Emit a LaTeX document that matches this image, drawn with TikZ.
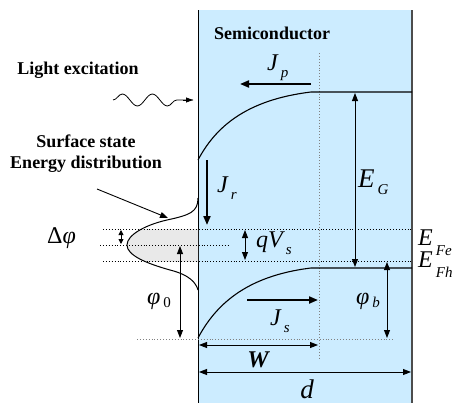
\documentclass[tikz,border=0pt]{standalone}
\usepackage{fontspec}
\setmainfont{Liberation Serif}
\usetikzlibrary{arrows.meta, positioning, calc, decorations.pathmorphing}
\definecolor{semiblue}{RGB}{204,236,255}
% letter with a lowered, detached subscript
\newcommand{\vsub}[3][7pt]{#2\kern3pt\raisebox{-#1}{\fontsize{15}{15}\selectfont #3}}

\tikzset{
  title/.style={font=\bfseries\fontsize{18}{21}\selectfont, align=center, inner sep=0pt},
  sym/.style={font=\itshape\fontsize{24}{24}\selectfont, inner sep=0pt},
  flux/.style={-{Triangle[length=9pt,width=7pt]}, line width=2pt},
  dimline/.style={{Triangle[length=8pt,width=6pt]}-{Triangle[length=8pt,width=6pt]}, line width=0.9pt},
  oneway/.style={-{Triangle[length=8pt,width=6pt]}, line width=0.9pt},
  level/.style={dotted, line width=0.9pt},
  guide/.style={dotted, gray, line width=0.9pt},
  band/.style={line width=1.1pt},
}

\begin{document}
\begin{tikzpicture}[x=1pt, y=-1pt]
  \useasboundingbox (0,0) rectangle (463,415);
  % Semiconductor slab
  \fill[semiblue] (198,10) rectangle (412,403);
  \draw[line width=1pt] (198,10) -- (198,403);
  \draw[gray!60!black, line width=1.5pt] (412,10) -- (412,403);
  \node[title] (semi) at (272,33) {Semiconductor};

  % Surface state distribution (shaded part first)
  \begin{scope}
    \clip (100,229) rectangle (198,261);
    \fill[gray!17] (198,198) .. controls (198,212) and (190,215) .. (167,220)
      .. controls (145,225) and (127,235) .. (127,245)
      .. controls (127,255) and (145,263) .. (170,270)
      .. controls (190,275) and (196,283) .. (198,290) -- cycle;
  \end{scope}
  \draw[line width=1pt] (198,198) .. controls (198,212) and (190,215) .. (167,220)
      .. controls (145,225) and (127,235) .. (127,245)
      .. controls (127,255) and (145,263) .. (170,270)
      .. controls (190,275) and (196,283) .. (198,290);

  % Levels
  \coordinate (feL) at (103,229);  \coordinate (feR) at (412,229);
  \coordinate (fhL) at (103,261);  \coordinate (fhR) at (412,261);
  \coordinate (midL) at (100,245); \coordinate (midR) at (230,245);
  \coordinate (botL) at (137,339); \coordinate (botR) at (395,339);
  \coordinate (wTop) at (319,53);  \coordinate (wBot) at (319,358);
  \draw[level] (feL) -- (feR);
  \draw[level] (fhL) -- (fhR);
  \draw[level] (midL) -- (midR);
  \draw[guide] (botL) -- (botR);
  \draw[guide] (wTop) -- (wBot);

  % Bands
  \coordinate (cb0) at (198,160); \coordinate (cbW) at (311,92); \coordinate (cbR) at (412,92);
  \coordinate (vb0) at (198,338); \coordinate (vbW) at (311,268); \coordinate (vbR) at (412,268);
  \draw[band] (cb0) .. controls (215,128) and (245,100) .. (cbW) -- (cbR);
  \draw[band] (vb0) .. controls (215,306) and (245,276) .. (vbW) -- (vbR);

  % Light
  \node[title] (light) at (78,70) {Light excitation};
  \coordinate (lightA) at (113,100);
  \coordinate (lightB) at (193,100);
  \draw[decorate, decoration={snake, segment length=30pt, amplitude=6pt, post length=12pt},
        line width=0.8pt] (lightA) -- (lightB);
  \draw[-{Triangle[length=7pt,width=5pt]}, line width=0.8pt] (183,100) -- (lightB);

  \node[title] (surf) at (86,154) {Surface state\\Energy distribution};
  \coordinate (ptrA) at (97,189);
  \coordinate (ptrB) at (168,218);
  \draw[oneway] (ptrA) -- (ptrB);

  % Currents
  \coordinate (jpA) at (311,84);  \coordinate (jpB) at (240,84);
  \coordinate (jrA) at (207,160); \coordinate (jrB) at (207,225);
  \coordinate (jsA) at (247,300); \coordinate (jsB) at (318,300);
  \draw[flux] (jpA) -- (jpB);
  \draw[flux] (jrA) -- (jrB);
  \draw[flux] (jsA) -- (jsB);
  \node[sym, anchor=base west] (Jp) at (267,70) {\vsub{J}{p}};
  \node[sym, anchor=base west] (Jr) at (217,192) {\vsub{J}{r}};
  \node[sym, anchor=base west] (Js) at (270,325) {\vsub{J}{s}};

  % Energies
  \coordinate (egA) at (355,93);  \coordinate (egB) at (355,267);
  \coordinate (qvA) at (245,230); \coordinate (qvB) at (245,260);
  \coordinate (dpA) at (121,230); \coordinate (dpB) at (121,244);
  \coordinate (p0A) at (180,246); \coordinate (p0B) at (180,338);
  \coordinate (pbA) at (387,262); \coordinate (pbB) at (387,338);
  \draw[dimline] (egA) -- (egB);
  \draw[dimline] (qvA) -- (qvB);
  \draw[{Triangle[length=5pt,width=5pt]}-{Triangle[length=5pt,width=5pt]}, line width=0.9pt] (dpA) -- (dpB);
  \draw[dimline] (p0A) -- (p0B);
  \draw[dimline] (pbA) -- (pbB);
  \node[sym, anchor=base west, font=\itshape\fontsize{27}{27}\selectfont] (EG) at (358,187) {\vsub{E}{G}};
  \node[sym, anchor=base west] (qVs) at (256,247) {\vsub{qV}{s}};
  \node[sym, anchor=base west] (dphi) at (47,243) {\upshape Δ\itshape φ};
  \node[sym, anchor=base west] (phi0) at (147,304) {\vsub[3pt]{φ}{\upshape 0}};
  \node[sym, anchor=base west] (phib) at (356,304) {\vsub[3pt]{φ}{b}};
  \node[sym, anchor=base west] (EFe) at (418,245) {\vsub[10pt]{E}{Fe}};
  \node[sym, anchor=base west] (EFh) at (418,267) {\vsub[10pt]{E}{Fh}};

  % Widths
  \coordinate (wA) at (199,345); \coordinate (wB) at (318,345);
  \coordinate (dA) at (199,372); \coordinate (dB) at (411,372);
  \draw[dimline] (wA) -- (wB);
  \draw[dimline] (dA) -- (dB);
  \node[sym, font=\bfseries\itshape\fontsize{24}{24}\selectfont] (W) at (258,360) {W};
  \node[sym, font=\itshape\fontsize{27}{27}\selectfont] (d) at (307,389) {d};
\end{tikzpicture}
\end{document}
